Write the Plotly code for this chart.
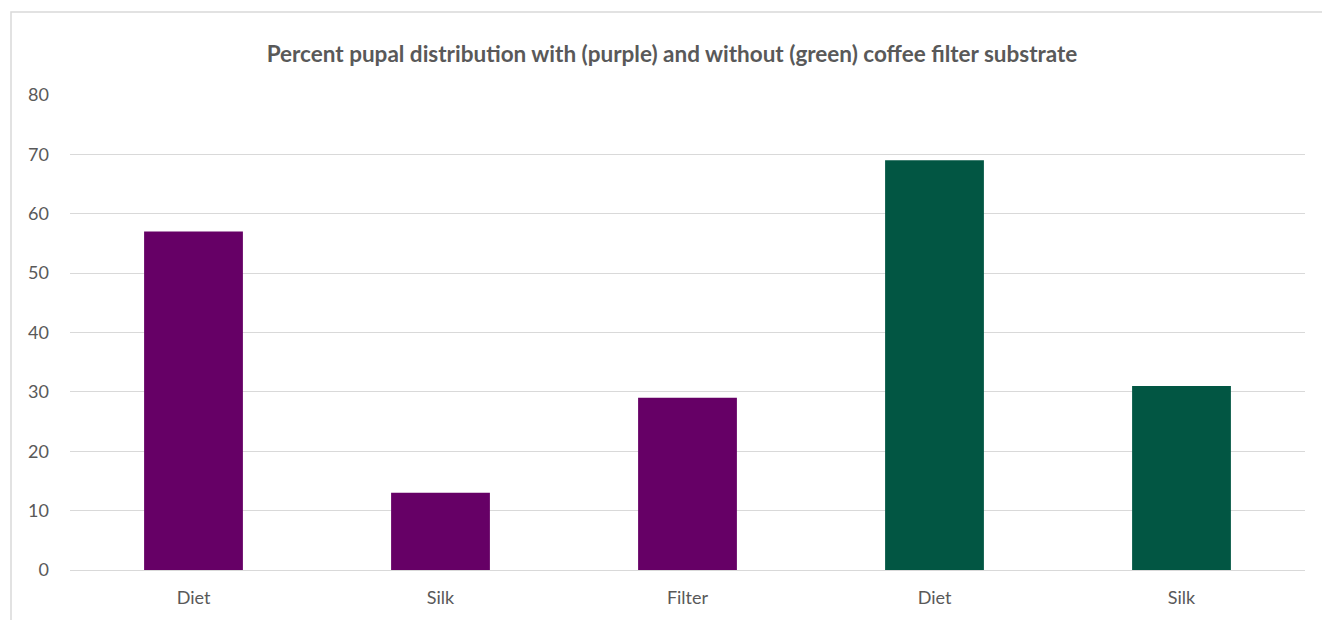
import plotly.graph_objects as go

# categories repeat (with / without filter), so position by index and label by ticktext
labels = ["Diet", "Silk", "Filter", "Diet", "Silk"]
percent = [57, 13, 29, 69, 31]
colors = ["#660066", "#660066", "#660066", "#025643", "#025643"]

pos = list(range(len(labels)))

fig = go.Figure()
fig.add_trace(go.Bar(
	x = pos,
	y = percent,
	marker = dict(color = colors, line = dict(width = 0)),
	width = 0.4,
	hoverinfo = "x+y"))

fig.update_layout(
	width = 1322,
	height = 620,
	margin = dict(l = 70, r = 17, t = 95, b = 50),
	paper_bgcolor = "white",
	plot_bgcolor = "white",
	showlegend = False,
	font = dict(family = "Lato, Open Sans, sans-serif", color = "#595959", size = 18),
	title = dict(
		text = "<b>Percent pupal distribution with (purple) and without (green) coffee filter substrate</b>",
		xref = "paper", x = (672 - 70) / 1235, xanchor = "center",
		y = 1 - 54 / 620, yanchor = "middle",
		font = dict(size = 22.5, color = "#595959")),
	xaxis = dict(
		tickmode = "array", tickvals = pos, ticktext = labels,
		range = [-0.5, 4.5],
		showgrid = False, zeroline = False,
		showline = True, linecolor = "#d9d9d9", linewidth = 1,
		ticks = "", ticklabelstandoff = 11, automargin = False),
	yaxis = dict(
		range = [0, 80], dtick = 10,
		showgrid = True, gridcolor = "#d9d9d9", gridwidth = 1,
		zeroline = False, showline = False,
		ticks = "", ticklabelstandoff = 20, automargin = False))

# chart-area border, runs off the right and bottom edges like the source
fig.add_shape(
	type = "rect", xref = "paper", yref = "paper",
	x0 = (11 - 70) / 1235, x1 = 1.03,
	y0 = -0.12, y1 = (570 - 12) / 475,
	line = dict(color = "#d9d9d9", width = 1.5),
	fillcolor = "rgba(0,0,0,0)", layer = "below")

# drop the default body margin so the figure sits at the window's corner
fig.write_html("out.html", config = {"displayModeBar": False},
	post_script = "document.body.style.margin = '0';")
